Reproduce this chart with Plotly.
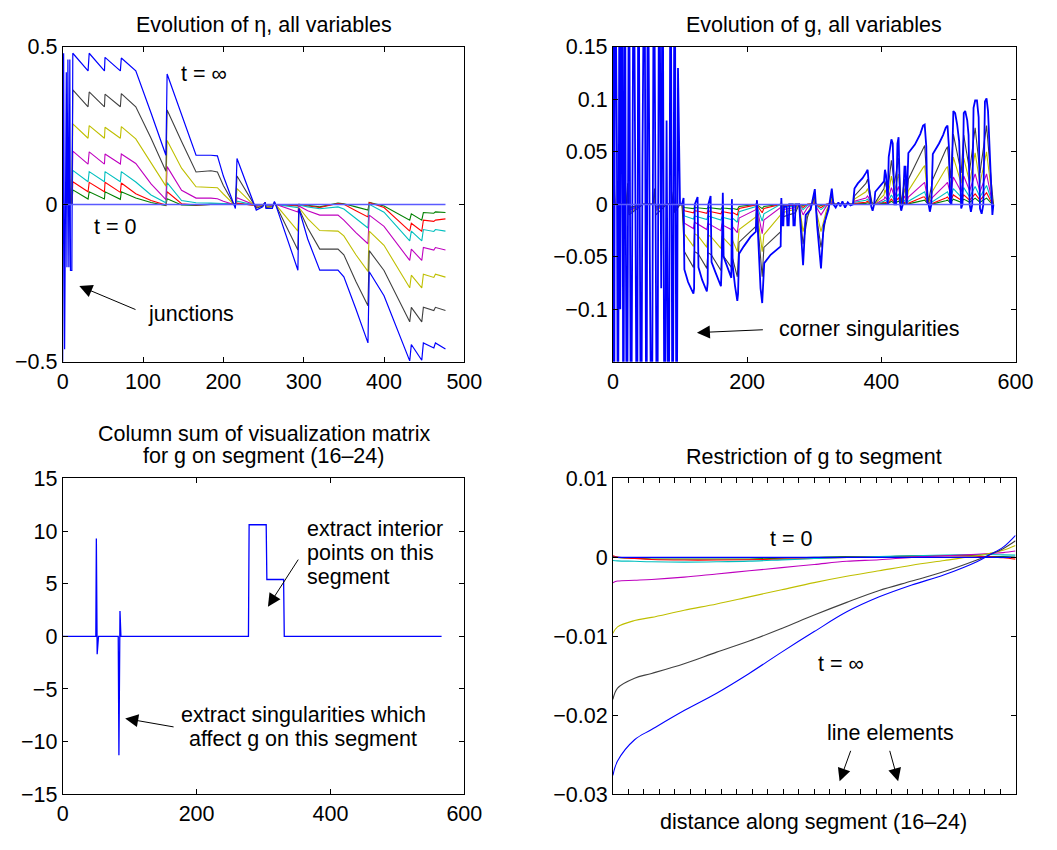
import plotly.graph_objects as go

FONT = "Liberation Sans, Arial, Helvetica, sans-serif"
FS = 21.5
C_BLUE = "#0000ff"
C_GREEN = "#008000"
C_RED = "#ff0000"
C_CYAN = "#00bfbf"
C_MAGENTA = "#bf00bf"
C_YELLOW = "#bfbf00"
C_BLACK = "#404040"
C_T0 = "rgb(90,90,255)"

# ---------------- Panel 1: Evolution of eta ----------------
eta_x = [0, 1.2, 2.4, 4.5, 5.3, 6.5, 7.7, 8.9, 9.7, 11.4, 12.6,
         31.6, 33, 52, 52.7, 71.8, 73, 91,
         110, 128.5, 130, 148, 166, 184.5, 192.6, 200,
         215, 217, 239, 241, 249, 252, 253, 261, 263.6, 265,
         292.8, 294, 305, 320, 342.7, 350, 365, 380, 381.6, 400,
         432, 434, 447, 449, 462, 464, 476.5]
eta_blue = [-0.5, 0.48, -0.46, 0.42, -0.2, 0.46, -0.2, 0.46, -0.21, -0.21, 0.48,
            0.424, 0.48, 0.424, 0.467, 0.424, 0.465, 0.424,
            0.29, 0.156, 0.414, 0.285, 0.156, 0.156, 0.154, 0.09,
            -0.013, 0.146, 0.0, -0.018, -0.008, 0.007, -0.013, -0.013, 0.009, 0.0,
            -0.209, -0.013, -0.11, -0.209, -0.209, -0.23, -0.332, -0.44, -0.214, -0.29,
            -0.497, -0.445, -0.495, -0.44, -0.456, -0.44, -0.459]
eta_black = [0, 0, 0, 0, 0, 0.05, 0, 0.05, 0, 0, 0.364,
             0.31, 0.357, 0.31, 0.35, 0.31, 0.352, 0.31,
             0.21, 0.105, 0.30, 0.2, 0.103, 0.107, 0.103, 0.06,
             -0.008, 0.09, -0.003, -0.012, -0.005, 0.006, -0.01, -0.008, 0.007, 0.0,
             -0.145, -0.013, -0.075, -0.142, -0.142, -0.16, -0.245, -0.322, -0.147, -0.21,
             -0.373, -0.327, -0.373, -0.327, -0.337, -0.327, -0.337]
eta_yellow = [0, 0, 0, 0, 0, 0.1, 0, 0.08, 0, 0, 0.256,
              0.21, 0.25, 0.21, 0.245, 0.21, 0.247, 0.208,
              0.13, 0.058, 0.203, 0.115, 0.056, 0.053, 0.053, 0.033,
              -0.005, 0.05, -0.003, -0.01, -0.004, 0.005, -0.008, -0.006, 0.006, 0.0,
              -0.085, -0.01, -0.045, -0.083, -0.085, -0.10, -0.16, -0.213, -0.085, -0.13,
              -0.265, -0.225, -0.265, -0.222, -0.232, -0.222, -0.231]
eta_magenta = [0, 0, 0, 0, 0, 0.04, 0, 0.03, 0, 0, 0.169,
               0.128, 0.167, 0.128, 0.16, 0.128, 0.16, 0.13,
               0.065, 0.015, 0.12, 0.045, 0.02, 0.02, 0.018, 0.01,
               -0.002, 0.021, -0.002, -0.007, -0.003, 0.004, -0.006, -0.004, 0.005, 0.0,
               -0.024, -0.005, -0.02, -0.034, -0.034, -0.05, -0.09, -0.125, -0.034, -0.07,
               -0.178, -0.142, -0.178, -0.137, -0.145, -0.137, -0.145]
eta_cyan = [0, 0, 0, 0, 0, 0.02, 0, 0.015, 0, 0, 0.108,
            0.072, 0.104, 0.072, 0.104, 0.072, 0.104, 0.071,
            0.03, 0.005, 0.069, 0.012, 0.005, 0.004, 0.004, 0.003,
            0.0, 0.01, -0.002, -0.005, -0.002, 0.003, -0.004, -0.003, 0.004, 0.0,
            -0.01, -0.002, -0.008, -0.014, -0.008, -0.015, -0.045, -0.075, 0.0, -0.025,
            -0.116, -0.085, -0.116, -0.08, -0.086, -0.08, -0.085]
eta_red = [0, 0, 0, 0, 0, 0.01, 0, 0.01, 0, 0, 0.072,
           0.04, 0.07, 0.04, 0.07, 0.038, 0.068, 0.034,
           0.012, -0.002, 0.04, 0.002, -0.002, 0.0, 0.0, 0.0,
           0.0, 0.004, -0.002, -0.004, -0.001, 0.003, -0.003, -0.002, 0.003, 0.0,
           -0.005, 0.0, -0.005, -0.01, 0.003, 0.0, -0.02, -0.04, 0.006, -0.01,
           -0.085, -0.06, -0.085, -0.05, -0.054, -0.05, -0.046]
eta_green = [0, 0, 0, 0, 0, 0.005, 0, 0.005, 0, 0, 0.046,
             0.017, 0.04, 0.017, 0.04, 0.016, 0.04, 0.02,
             0.006, -0.004, 0.018, -0.002, -0.003, 0.0, 0.0, 0.0,
             0.0, 0.002, -0.002, -0.003, -0.001, 0.002, -0.002, -0.001, 0.003, 0.0,
             -0.003, 0.0, -0.003, -0.008, 0.004, 0.002, -0.008, -0.018, 0.006, -0.005,
             -0.05, -0.03, -0.05, -0.026, -0.028, -0.024, -0.026]
eta_t0_x = [0, 476.5]
eta_t0_y = [0.0, 0.0]

# ---------------- Panel 2: Evolution of g ----------------
g_x = [0, 1, 2, 3, 20, 22, 24, 45, 60, 62, 64, 80, 88, 90, 92, 100,
       103, 106.5, 120, 121.5, 127, 140, 141.5, 146.5, 161, 162.5,
       164.5, 176.5, 177.5, 179, 185.4, 188, 213, 214.6, 216, 222.5,
       225, 250, 251, 253, 262, 272, 277.6, 283.4, 290, 300.9,
       304.3, 310.1, 318, 326.2, 330, 357.7,
       360, 377, 379.6, 386, 389.3, 404, 405.4, 409.5, 415, 419.5,
       425.7, 429.6, 434.5, 437.8, 440.3, 462.2, 464.6, 470, 476.7, 496,
       498.6, 503, 507.3, 519, 522.8, 531.6, 539.8, 547, 556.8, 564.1, 567]
g_black = [0.14, -0.14, 0.03, 0.0, 0.0, 0.02, -0.01, 0.0, 0.0, 0.015, -0.01, 0.0, 0.0, 0.012, -0.008, 0.0,
           0.0, -0.045, -0.06, -0.045, -0.047, -0.061, -0.046, -0.048, -0.063, -0.047,
           -0.049, -0.06, -0.05, -0.053, -0.069, -0.036, -0.021, 0.0, -0.02, -0.069,
           -0.041, -0.026, 0.003, -0.012, -0.01, -0.008, 0.0, -0.038, -0.012, 0.008,
           -0.015, -0.041, -0.01, 0.008, 0.0, 0.0,
           0.008, 0.02, 0.024, 0.002, 0.0, 0.015, 0.022, 0.012, 0.042, 0.02,
           0.044, 0.0, 0.024, 0.003, 0.024, 0.054, 0.056, 0.002, 0.024, 0.052,
           0.055, 0.025, 0.067, 0.03, 0.066, 0.032, 0.073, 0.03, 0.075, 0.02, 0.0]
g_yellow = [0.12, -0.12, 0.02, 0.0, 0.0, 0.015, -0.008, 0.0, 0.0, 0.012, -0.006, 0.0, 0.0, 0.01, -0.006, 0.0,
            0.0, -0.028, -0.04, -0.028, -0.03, -0.041, -0.029, -0.031, -0.042, -0.03,
            -0.032, -0.04, -0.033, -0.035, -0.045, -0.024, -0.012, 0.003, -0.012, -0.045,
            -0.029, -0.01, 0.002, -0.008, -0.006, -0.005, 0.0, -0.026, -0.008, 0.005,
            -0.01, -0.026, -0.006, 0.005, 0.0, 0.0,
            0.005, 0.012, 0.015, 0.001, 0.0, 0.009, 0.014, 0.007, 0.027, 0.012,
            0.029, 0.0, 0.015, 0.002, 0.013, 0.035, 0.037, 0.001, 0.013, 0.034,
            0.036, 0.016, 0.045, 0.02, 0.044, 0.021, 0.049, 0.02, 0.05, 0.012, 0.0]
g_magenta = [0.15, -0.1, 0.015, 0.0, 0.0, 0.012, -0.006, 0.0, 0.0, 0.01, -0.005, 0.0, 0.0, 0.008, -0.005, 0.0,
             0.0, -0.018, -0.023, -0.017, -0.019, -0.024, -0.018, -0.02, -0.025, -0.019,
             -0.02, -0.024, -0.021, -0.022, -0.027, -0.013, -0.005, 0.004, -0.007, -0.028,
             -0.015, -0.003, 0.001, -0.005, -0.004, -0.003, 0.0, -0.01, -0.003, 0.003,
             -0.004, -0.01, -0.002, 0.003, 0.0, 0.0,
             0.003, 0.006, 0.008, 0.0, 0.0, 0.005, 0.007, 0.004, 0.016, 0.007,
             0.017, 0.0, 0.008, 0.001, 0.007, 0.02, 0.021, 0.0, 0.007, 0.019,
             0.021, 0.01, 0.026, 0.012, 0.027, 0.013, 0.029, 0.012, 0.029, 0.006, 0.0]
g_cyan = [0.05, -0.14, 0.01, 0.0, 0.0, 0.01, -0.005, 0.0, 0.0, 0.008, -0.004, 0.0, 0.0, 0.006, -0.004, 0.0,
          0.0, -0.011, -0.014, -0.011, -0.012, -0.0145, -0.011, -0.012, -0.015, -0.012,
          -0.0125, -0.0145, -0.013, -0.0135, -0.017, -0.007, -0.002, 0.003, -0.004, -0.016,
          -0.009, 0.0, 0.0, -0.003, -0.002, -0.002, 0.0, -0.005, -0.001, 0.002,
          -0.002, -0.005, -0.001, 0.002, 0.0, 0.0,
          0.002, 0.004, 0.005, 0.0, 0.0, 0.003, 0.004, 0.002, 0.009, 0.004,
          0.01, 0.0, 0.004, 0.0, 0.003, 0.011, 0.012, 0.0, 0.003, 0.011,
          0.012, 0.005, 0.015, 0.007, 0.016, 0.007, 0.017, 0.007, 0.018, 0.004, 0.0]
g_red = [0.07, -0.13, 0.008, 0.0, 0.0, 0.008, -0.004, 0.0, 0.0, 0.006, -0.003, 0.0, 0.0, 0.005, -0.003, 0.0,
         0.0, -0.006, -0.008, -0.006, -0.0065, -0.0085, -0.006, -0.007, -0.009, -0.0065,
         -0.007, -0.0085, -0.0075, -0.008, -0.01, -0.004, -0.0005, 0.002, -0.002, -0.008,
         -0.004, 0.0, 0.0, -0.002, -0.001, -0.001, 0.0, -0.003, 0.0, 0.001,
         -0.001, -0.003, 0.0, 0.001, 0.0, 0.0,
         0.001, 0.002, 0.003, 0.0, 0.0, 0.002, 0.002, 0.001, 0.005, 0.002,
         0.006, 0.0, 0.002, 0.0, 0.001, 0.007, 0.007, 0.0, 0.001, 0.006,
         0.007, 0.003, 0.009, 0.004, 0.009, 0.004, 0.01, 0.004, 0.011, 0.002, 0.0]
g_green = [0.05, -0.08, 0.005, 0.0, 0.0, 0.006, -0.003, 0.0, 0.0, 0.004, -0.002, 0.0, 0.0, 0.003, -0.002, 0.0,
           0.0, -0.003, -0.004, -0.003, -0.0033, -0.0042, -0.003, -0.0035, -0.0045, -0.0032,
           -0.0035, -0.0043, -0.0037, -0.004, -0.005, -0.002, 0.0, 0.001, -0.001, -0.004,
           -0.002, 0.0, 0.0, -0.001, 0.0, 0.0, 0.0, -0.001, 0.0, 0.0005,
           0.0, -0.001, 0.0, 0.0005, 0.0, 0.0,
           0.0005, 0.001, 0.0015, 0.0, 0.0, 0.001, 0.001, 0.0005, 0.003, 0.001,
           0.003, 0.0, 0.001, 0.0, 0.0005, 0.0035, 0.004, 0.0, 0.0005, 0.0035,
           0.004, 0.0015, 0.005, 0.002, 0.005, 0.002, 0.006, 0.002, 0.006, 0.001, 0.0]
# blue (t = infinity) as (position, value) pairs
g_blue_pts = [
    (0, 0.3), (2, -0.3), (3, 0.3), (6, 0.05), (7.5, -0.3), (10, 0.3), (11, -0.1), (14, 0.3),
    (15.5, -0.3), (18, 0.3), (19, 0.02), (21, -0.3), (24, 0.3), (26, -0.02), (27, -0.3), (31, 0.3),
    (33, 0.06), (36, -0.3), (38, 0.3), (42, -0.3), (44, 0.04), (47, 0.3), (50, -0.3), (52, 0.3),
    (55, -0.05), (58, -0.3), (61, 0.3), (63, 0.0), (66, -0.3), (69, 0.3), (72, -0.08), (74, 0.3),
    (77, -0.3), (80, 0.08), (83, -0.3), (86, 0.3), (89, -0.3), (92, 0.3), (95, -0.3), (97, 0.13),
    (100, 0.0), (103, 0.0), (105.3, 0.006), (106.5, -0.062), (112, -0.074), (117, -0.081),
    (120, -0.085), (121, -0.08), (122, 0.0), (126.2, 0.007), (127.5, -0.06), (133, -0.072),
    (138, -0.081), (140, -0.083), (141.2, -0.075), (142.2, 0.0), (145.6, 0.008), (147, -0.055),
    (153, -0.065), (158, -0.073), (161, -0.078), (162, -0.06), (163, 0.0), (163.8, 0.011),
    (165, -0.05), (170, -0.058), (175, -0.066), (176.5, -0.07), (177.3, 0.005), (178.5, -0.058),
    (182, -0.078), (185.4, -0.092), (186.5, -0.085), (188, -0.047), (195, -0.04), (205, -0.031),
    (213, -0.026), (214.6, 0.004), (216, -0.025), (220, -0.08), (222.5, -0.094), (224, -0.075),
    (225.5, -0.056), (235, -0.048), (245, -0.043), (250, -0.04), (251, 0.006), (252.5, -0.02),
    (254, -0.02), (255, -0.002), (259, -0.002), (260, -0.02), (262, -0.02), (263, 0.0), (268, 0.0),
    (269, -0.02), (271, -0.02), (272.3, 0.0), (277.6, 0.0), (280, -0.025), (283.4, -0.058),
    (287.3, -0.01), (294.6, -0.005), (300.9, 0.0145), (304.3, -0.02), (310.1, -0.061), (314, -0.02),
    (321.3, -0.005), (326.2, 0.015), (328.6, 0.0), (332, -0.003), (336, 0.002), (339, -0.002),
    (342, 0.003), (346, -0.003), (350, 0.002), (354, -0.001), (357.7, 0.0),
    (360, 0.015), (365, 0.02), (372, 0.025), (377, 0.03), (379.6, 0.033), (382, 0.014),
    (385, -0.002), (387, -0.006), (389.3, 0.0), (391, 0.012), (398, 0.018), (404, 0.022),
    (405.4, 0.033), (407, 0.028), (409.5, 0.0), (411, 0.045), (415, 0.062), (417, 0.058),
    (419.5, 0.0), (422, 0.0), (424, 0.058), (425.7, 0.064), (428, 0.0), (429.6, -0.006), (432, 0.0),
    (434.5, 0.036), (436, 0.036), (437.8, 0.0), (440.3, 0.049), (450, 0.057), (458, 0.067),
    (462.2, 0.075), (464.6, 0.076), (467, 0.055), (468.5, 0.002), (470.5, 0.0), (472.3, -0.007),
    (474.5, 0.0), (476.7, 0.048), (486, 0.058), (492, 0.066), (496, 0.073), (498.6, 0.075),
    (501, 0.052), (502.4, 0.002), (504.5, 0.0), (505.5, 0.04), (507.3, 0.089), (510, 0.087),
    (513, 0.076), (516, 0.06), (519, -0.004), (521, 0.0), (522.8, 0.087), (525, 0.089), (528, 0.08),
    (530, 0.066), (531.6, 0.0), (533.5, -0.007), (535.5, 0.0), (537.4, 0.092), (539.8, 0.099),
    (542.5, 0.099), (545, 0.083), (547, -0.004), (549.5, -0.009), (552, 0.0), (554.4, 0.098),
    (556.8, 0.101), (559, 0.089), (561.5, 0.051), (564.1, 0.0), (565.5, -0.01), (567, 0.0)]
g_t0_x = [0, 567]
g_t0_y = [0.0, 0.0]

# ---------------- Panel 3: column sum ----------------
cs_x = [0, 49.5, 50.3, 51.5, 53.5, 83, 84, 85.6, 87, 277.5, 278.5, 304, 305, 330, 331, 566]
cs_y = [0, 0, 9.3, -1.7, 0, 0, -11.3, 2.4, 0, 0, 10.6, 10.6, 5.4, 5.4, 0, 0]

# ---------------- Panel 4: restriction of g to segment ----------------
rs_x = [0, 0.3, 1.4, 2.5, 4.6, 6.7, 8.8, 10.9, 13.0, 15.1, 17.2, 19.3, 21.4, 23.5, 24.3, 25.2, 26.0]
rs_blue = [-0.0276, -0.0258, -0.0231, -0.0218, -0.0194, -0.0172, -0.0147, -0.012, -0.0094, -0.0069,
           -0.005, -0.0035, -0.0022, -0.00055, 0.0003, 0.0013, 0.0028]
rs_black = [-0.018, -0.01655, -0.0153, -0.0147, -0.01347, -0.012, -0.0106, -0.009, -0.0073, -0.0057,
            -0.0042, -0.003, -0.0018, -0.00034, 0.0003, 0.0011, 0.0021]
rs_yellow = [-0.0096, -0.0088, -0.008, -0.0076, -0.0067, -0.0059, -0.005, -0.0041, -0.0032, -0.0024,
             -0.0017, -0.001, -0.0004, 0.0002, 0.0005, 0.0009, 0.0015]
rs_magenta = [-0.0032, -0.003, -0.0029, -0.0028, -0.0025, -0.0021, -0.0017, -0.0013, -0.0009, -0.0005,
              -0.0003, 0.0, 0.0002, 0.0004, 0.0005, 0.0006, 0.0008]
rs_cyan = [-0.0004, -0.00044, -0.0005, -0.00056, -0.0006, -0.00056, -0.00048, -0.00032, -0.00015, 0.0,
           0.0001, 0.0002, 0.0003, 0.00036, 0.00036, 0.00032, 0.00028]
rs_red = [0.0002, 0.00003, -0.00013, -0.00026, -0.00034, -0.00034, -0.0003, -0.00022, -0.00013, 0.0,
          0.00007, 0.00015, 0.0002, 0.00015, 0.00007, -0.00005, -0.00022]
rs_green = [0.0001, 0.0, -0.0001, -0.0002, -0.0002, -0.0002, -0.0002, -0.0001, 0.0, 0.0001,
            0.0001, 0.0002, 0.0002, 0.0002, 0.0001, 0.0001, 0.0]
rs_t0_x = [0, 26]
rs_t0_y = [0.0, 0.0]
rs_element_ticks = list(range(1, 26))

fig = go.Figure()


def add(xs, ys, color, width, xa, ya, shape="linear"):
    fig.add_trace(go.Scatter(x=xs, y=ys, mode="lines",
                             line=dict(color=color, width=width, shape=shape),
                             xaxis=xa, yaxis=ya, showlegend=False, hoverinfo="skip"))


# panel 1
for ys, col in [(eta_green, C_GREEN), (eta_red, C_RED), (eta_cyan, C_CYAN),
                (eta_magenta, C_MAGENTA), (eta_yellow, C_YELLOW), (eta_black, C_BLACK)]:
    add(eta_x, ys, col, 1.1, "x", "y")
add(eta_x, eta_blue, C_BLUE, 1.2, "x", "y")
add(eta_t0_x, eta_t0_y, C_T0, 1.5, "x", "y")

# panel 2
for ys, col in [(g_green, C_GREEN), (g_red, C_RED), (g_cyan, C_CYAN),
                (g_magenta, C_MAGENTA), (g_yellow, C_YELLOW), (g_black, C_BLACK)]:
    add(g_x, ys, col, 1.1, "x2", "y2")
add([p[0] for p in g_blue_pts], [p[1] for p in g_blue_pts], C_BLUE, 1.8, "x2", "y2")
add(g_t0_x, g_t0_y, C_T0, 1.5, "x2", "y2")

# panel 3
add(cs_x, cs_y, C_BLUE, 1.3, "x3", "y3")

# panel 4
for ys, col in [(rs_green, C_GREEN), (rs_red, C_RED), (rs_cyan, C_CYAN),
                (rs_magenta, C_MAGENTA), (rs_yellow, C_YELLOW), (rs_black, C_BLACK),
                (rs_blue, C_BLUE)]:
    add(rs_x, ys, col, 1.1, "x4", "y4", shape="spline")
add(rs_t0_x, rs_t0_y, C_BLUE, 1.3, "x4", "y4")

XL = [58 / 1057, 469 / 1057]
XR = [621 / 1057, 1033 / 1057]
YT = [1 - 361 / 850, 1 - 37 / 850]
YB = [1 - 806 / 850, 1 - 481 / 850]

axc = dict(showline=True, linecolor="black", linewidth=1, mirror="ticks",
           ticks="inside", ticklen=5, tickwidth=1, tickcolor="black",
           showgrid=False, zeroline=False, fixedrange=True,
           tickfont=dict(family=FONT, size=FS, color="black"))


def fmt(v):
    s = ("%g" % v)
    return s.replace("-", "\u2212")


eta_xt = [0, 100, 200, 300, 400, 500]
eta_yt = [-0.5, 0, 0.5]
g_xt = [0, 200, 400, 600]
g_yt = [-0.1, -0.05, 0, 0.05, 0.1, 0.15]
cs_xt = [0, 200, 400, 600]
cs_yt = [-15, -10, -5, 0, 5, 10, 15]
rs_yt = [-0.03, -0.02, -0.01, 0, 0.01]

fig.update_layout(
    width=1057, height=850, margin=dict(l=0, r=0, t=0, b=0),
    paper_bgcolor="white", plot_bgcolor="white",
    font=dict(family=FONT, size=FS, color="black"),
    xaxis=dict(axc, domain=XL, anchor="y", range=[0, 500], tickvals=eta_xt,
               ticktext=[fmt(v) for v in eta_xt]),
    yaxis=dict(axc, domain=YT, anchor="x", range=[-0.5, 0.5], tickvals=eta_yt,
               ticktext=[fmt(v) for v in eta_yt]),
    xaxis2=dict(axc, domain=XR, anchor="y2", range=[0, 600], tickvals=g_xt,
                ticktext=[fmt(v) for v in g_xt]),
    yaxis2=dict(axc, domain=YT, anchor="x2", range=[-0.15, 0.15], tickvals=g_yt,
                ticktext=[fmt(v) for v in g_yt]),
    xaxis3=dict(axc, domain=XL, anchor="y3", range=[0, 600], tickvals=cs_xt,
                ticktext=[fmt(v) for v in cs_xt]),
    yaxis3=dict(axc, domain=YB, anchor="x3", range=[-15, 15], tickvals=cs_yt,
                ticktext=[fmt(v) for v in cs_yt]),
    xaxis4=dict(axc, domain=XR, anchor="y4", range=[0, 26], tickvals=rs_element_ticks,
                showticklabels=False),
    yaxis4=dict(axc, domain=YB, anchor="x4", range=[-0.03, 0.01], tickvals=rs_yt,
                ticktext=[fmt(v) for v in rs_yt]),
)

ann = []


def text(t, x, y, xref, yref, xanchor="center"):
    ann.append(dict(text=t, x=x, y=y, xref=xref, yref=yref, showarrow=False,
                    xanchor=xanchor, yanchor="middle",
                    font=dict(family=FONT, size=FS, color="black")))


def arrow(hx, hy, tx, ty, xr, yr):
    ann.append(dict(text="", x=hx, y=hy, ax=tx, ay=ty, xref=xr, yref=yr,
                    axref=xr, ayref=yr, showarrow=True, arrowhead=2,
                    arrowsize=2.6, arrowwidth=1, arrowcolor="black",
                    standoff=0, startstandoff=0))


# titles
text("Evolution of \u03b7, all variables", 0.2493, 1 - 14 / 850, "paper", "paper")
text("Evolution of g, all variables", 0.7824, 1 - 14 / 850, "paper", "paper")
text("Column sum of visualization matrix", 0.2493, 1 - 435 / 850, "paper", "paper")
text("for g on segment (16\u201324)", 0.2493, 1 - 458 / 850, "paper", "paper")
text("Restriction of g to segment", 0.7824, 1 - 459 / 850, "paper", "paper")
text("distance along segment (16\u201324)", 0.7815, 1 - 835 / 850, "paper", "paper")

# panel 1 labels
text("t = \u221e", 176.4, 0.4136, "x", "y")
text("t = 0", 65.7, -0.071, "x", "y")
text("junctions", 159.4, -0.349, "x", "y")
arrow(20.7, -0.259, 92.5, -0.336, "x", "y")

# panel 2 labels
text("corner singularities", 381.5, -0.1185, "x2", "y2")
arrow(125.2, -0.1222, 225.7, -0.1194, "x2", "y2")

# panel 3 labels
text("extract interior", 362, 10.2, "x3", "y3", xanchor="left")
text("points on this", 362, 7.89, "x3", "y3", xanchor="left")
text("segment", 362, 5.59, "x3", "y3", xanchor="left")
arrow(306.6, 2.82, 353.3, 7.43, "x3", "y3")
text("extract singularities which", 359, -7.43, "x3", "y3")
text("affect g on this segment", 359, -9.74, "x3", "y3")
arrow(93.4, -7.8, 167.9, -8.63, "x3", "y3")

# panel 4 labels
text("t = 0", 11.48, 0.00237, "x4", "y4")
text("t = \u221e", 14.76, -0.01348, "x4", "y4")
text("line elements", 17.92, -0.02219, "x4", "y4")
arrow(14.64, -0.02837, 15.39, -0.02431, "x4", "y4")
arrow(18.42, -0.02837, 17.85, -0.02431, "x4", "y4")

fig.update_layout(annotations=ann)
fig.write_html("out.html")
